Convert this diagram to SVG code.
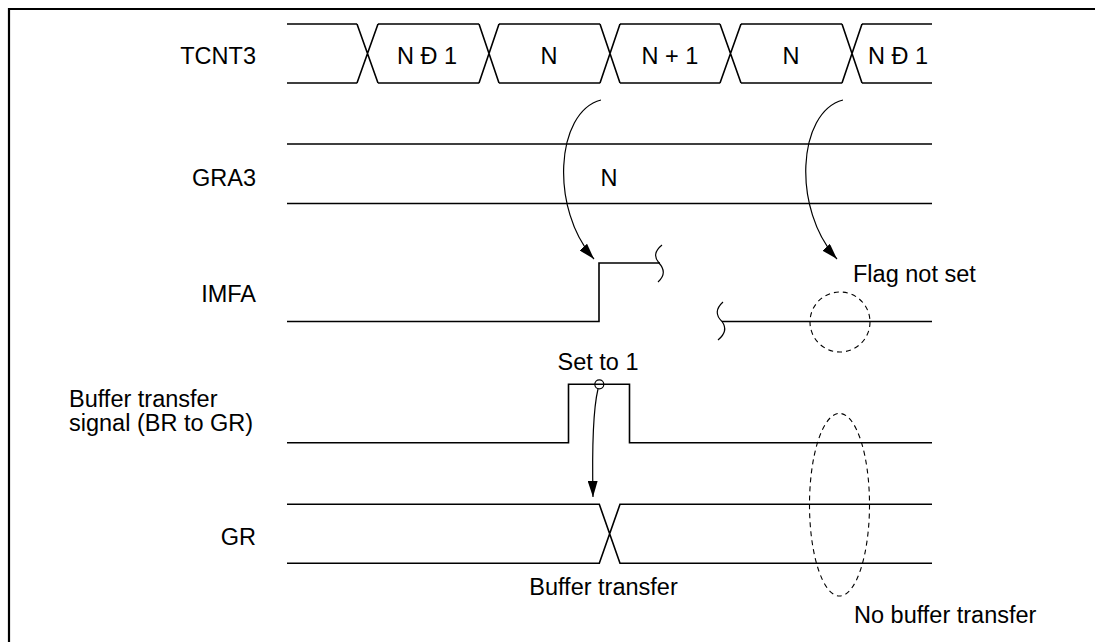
<svg xmlns="http://www.w3.org/2000/svg" width="1095" height="642" viewBox="0 0 1095 642">
<style>
text{font-family:"Liberation Sans",Arial,sans-serif;font-size:23.5px;fill:#000}
.lbl{text-anchor:end}
.mid{text-anchor:middle}
.sig{fill:none;stroke:#000;stroke-width:1.6}
.arr{fill:none;stroke:#000;stroke-width:1.2}
.dash{fill:none;stroke:#000;stroke-width:1.1;stroke-dasharray:5 4}
.frame{fill:none;stroke:#000;stroke-width:2.2}
</style>
<defs>
<marker id="ah" viewBox="0 0 16 10" refX="16" refY="5" markerWidth="16" markerHeight="10" markerUnits="userSpaceOnUse" orient="auto">
<path d="M0 0 L16 5 L0 10 Z" fill="#000"/>
</marker>
</defs>
<rect width="1095" height="642" fill="#fff"/>
<path class="frame" d="M9 642 V9 H1095"/>

<g id="tcnt3">
<text class="lbl" x="256" y="64">TCNT3</text>
<path class="sig" d="M287 24 H357 M378 24 H479 M499 24 H600 M620 24 H720 M741 24 H842 M862 24 H932 M287 83 H357 M378 83 H479 M499 83 H600 M620 83 H720 M741 83 H842 M862 83 H932 M357 24 L378 83 M357 83 L378 24 M479 24 L499 83 M479 83 L499 24 M600 24 L620 83 M600 83 L620 24 M720 24 L741 83 M720 83 L741 24 M842 24 L862 83 M842 83 L862 24"/>
<text class="mid" x="427" y="64">N Đ 1</text>
<text class="mid" x="549" y="64">N</text>
<text class="mid" x="670" y="64">N + 1</text>
<text class="mid" x="791" y="64">N</text>
<text class="mid" x="898" y="64">N Đ 1</text>
</g>

<g id="gra3">
<text class="lbl" x="256" y="185.5">GRA3</text>
<path class="sig" d="M287 144 H932 M287 203.5 H932"/>
<text class="mid" x="609" y="185.5">N</text>
</g>

<g id="imfa">
<text class="lbl" x="256" y="302">IMFA</text>
<path class="sig" d="M287 321.5 H599 V263 H660"/>
<path class="arr" d="M662 245 Q651 254 659 263 Q668 273 658 282"/>
<path class="arr" d="M723 302 Q712 312 722 321.5 Q729 331 718 340"/>
<path class="sig" d="M722 321.5 H932"/>
<circle class="dash" cx="840" cy="322" r="30"/>
<text x="853" y="282">Flag not set</text>
</g>

<g id="buffer-signal">
<text x="69" y="407">Buffer transfer</text>
<text x="69" y="431">signal (BR to GR)</text>
<path class="sig" d="M287 442.7 H568.5 V384.3 H629.5 V442.7 H932"/>
<text class="mid" x="598" y="370">Set to 1</text>
<circle class="arr" cx="599.3" cy="384.3" r="4.5"/>
</g>

<g id="gr">
<text class="lbl" x="256" y="545">GR</text>
<path class="sig" d="M287 504.3 H599.3 L620 563.3 H932 M287 563.3 H599.3 L620 504.3 H932"/>
<text class="mid" x="603.5" y="595">Buffer transfer</text>
<ellipse class="dash" cx="839.5" cy="504.7" rx="30" ry="91.3"/>
<text x="854" y="623">No buffer transfer</text>
</g>

<g id="connectors">
<path class="arr" marker-end="url(#ah)" d="M601 100 C555 112 550 210 594 259"/>
<path class="arr" marker-end="url(#ah)" d="M843 100 C797 112 792 210 837 259"/>
<path class="arr" marker-end="url(#ah)" d="M598 389 C593 410 592 450 593 497"/>
</g>
</svg>
